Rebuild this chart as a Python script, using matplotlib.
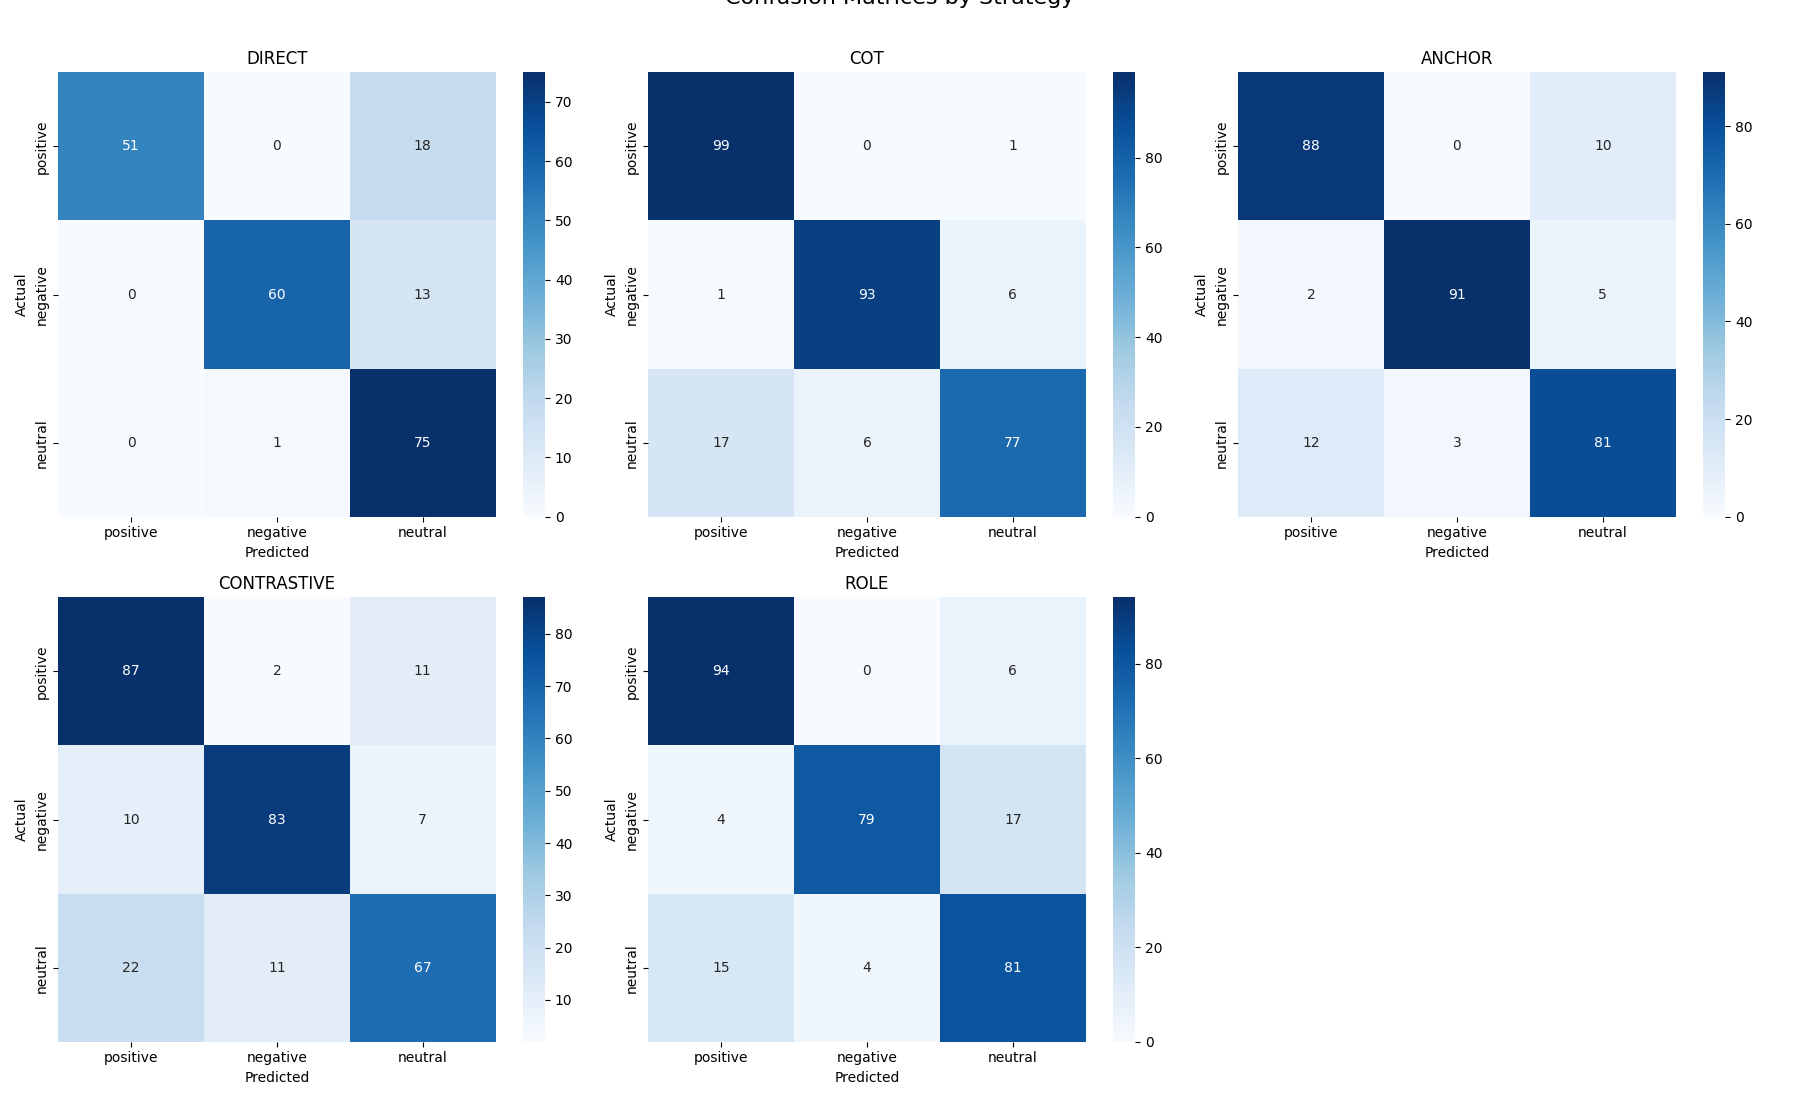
import numpy as np
import matplotlib
matplotlib.use("Agg")
from matplotlib import pyplot as plt
import seaborn as sns

labels     = ["positive", "negative", "neutral"]
strategies = ["DIRECT", "COT", "ANCHOR", "CONTRASTIVE", "ROLE"]

cm_direct      = [[51, 0, 18], [0, 60, 13], [0, 1, 75]]
cm_cot         = [[99, 0, 1], [1, 93, 6], [17, 6, 77]]
cm_anchor      = [[88, 0, 10], [2, 91, 5], [12, 3, 81]]
cm_contrastive = [[87, 2, 11], [10, 83, 7], [22, 11, 67]]
cm_role        = [[94, 0, 6], [4, 79, 17], [15, 4, 81]]

matrices = [cm_direct, cm_cot, cm_anchor, cm_contrastive, cm_role]

fig, axes = plt.subplots(2, 3, figsize=(18, 11))
axes = axes.flatten()

for ax, name, cm in zip(axes, strategies, matrices):
  sns.heatmap(np.array(cm), annot=True, fmt='d', cmap='Blues', ax=ax,
              xticklabels=labels, yticklabels=labels)
  ax.set_title(name)
  ax.set_xlabel('Predicted')
  ax.set_ylabel('Actual')

axes[-1].axis('off')

title = fig.suptitle('Confusion Matrices by Strategy', fontsize=16, y=1.02)
plt.tight_layout()
title.set_y(1.011) # sits half off the top, as in the original
plt.savefig('out.png', dpi=100)
